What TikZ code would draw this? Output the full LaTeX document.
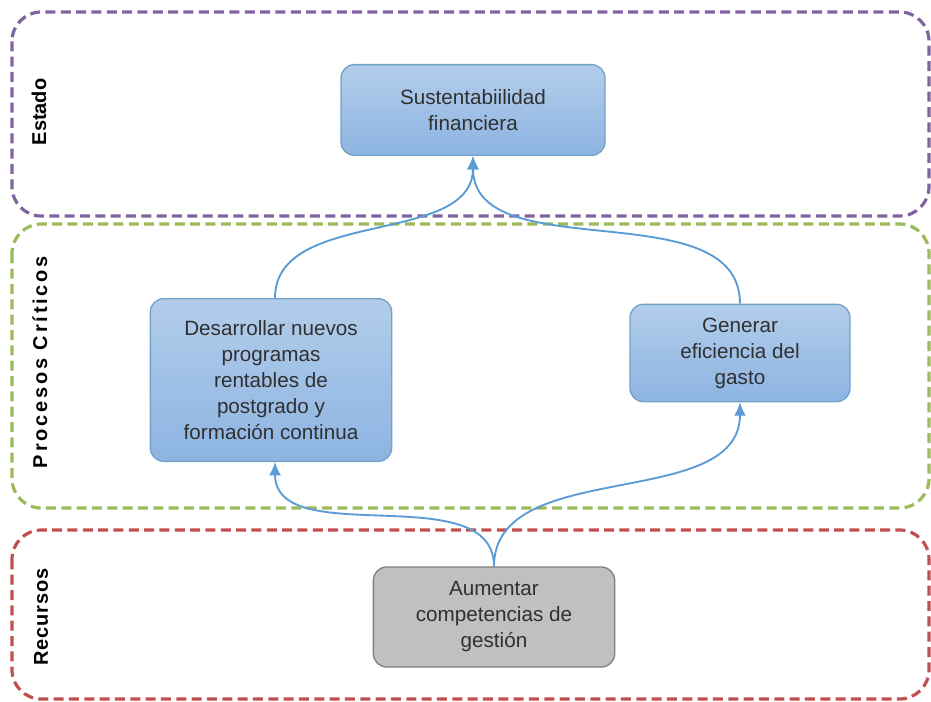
\documentclass[tikz,border=0pt]{standalone}
\usepackage{fontspec}
\setmainfont{Liberation Sans}
\usetikzlibrary{arrows.meta}
\begin{document}
\begin{tikzpicture}[x=0.75pt,y=-0.75pt,
  lane/.style={draw, dashed, line width=2.4pt, dash pattern=on 7.5pt off 4pt, rounded corners=22pt},
  goal/.style={draw=blue!45!cyan!60!black!55, line width=1pt, rounded corners=10pt, top color=blueT, bottom color=blueB, align=center, text=darkT, font=\fontsize{15.5}{19.5}\selectfont},
  resbox/.style={goal, draw=black!50, top color=grayF, bottom color=grayF},
  lanelabel/.style={rotate=90, font=\bfseries\fontsize{15}{18}\selectfont, text=black},
  flow/.style={color=lineB, line width=1.4pt, -{Latex[length=10pt,width=9pt]}}]

\definecolor{blueT}{HTML}{B2CDEA}
\definecolor{blueB}{HTML}{8DB4E2}
\definecolor{grayF}{HTML}{C0C0C0}
\definecolor{darkT}{HTML}{303030}
\definecolor{lineB}{HTML}{5B9BD5}

\useasboundingbox (0,0) rectangle (931,702);

% lanes
\draw[lane, draw={rgb,255:red,128;green,100;blue,162}] (12,12) rectangle (929,216);
\draw[lane, draw={rgb,255:red,155;green,187;blue,89}] (12,224) rectangle (929,508);
\draw[lane, draw={rgb,255:red,192;green,80;blue,77}] (12,530) rectangle (929,699);

\node[lanelabel] (LE) at (39,112) {Estado};
\node[lanelabel] (LP) at (40,362) {\addfontfeature{LetterSpace=14}Procesos Críticos};
\node[lanelabel] (LR) at (41,617) {\addfontfeature{LetterSpace=4}Recursos};

% objectives
\node[goal, minimum width=198pt, minimum height=68pt] (S) at (473,110) {Sustentabiilidad\\financiera};
\node[goal, minimum width=181pt, minimum height=122pt] (D) at (271,380) {Desarrollar nuevos\\programas\\rentables de\\postgrado y\\formación continua};
\node[goal, minimum width=165pt, minimum height=73pt] (G) at (740,353) {Generar\\eficiencia del\\gasto};
\node[resbox, minimum width=181pt, minimum height=75pt] (A) at (494,617) {Aumentar\\competencias de\\gestión};

\path[flow] ([xshift=3pt]D.north) edge[out=90, in=-90, looseness=0.95] (S.south);
\path[flow] (G.north) edge[out=90, in=-90, looseness=0.95] (S.south);
\path[flow] (A.north) edge[out=90, in=-90, looseness=0.95] ([xshift=3pt]D.south);
\path[flow] (A.north) edge[out=90, in=-90, looseness=0.95] (G.south);

\end{tikzpicture}
\end{document}
